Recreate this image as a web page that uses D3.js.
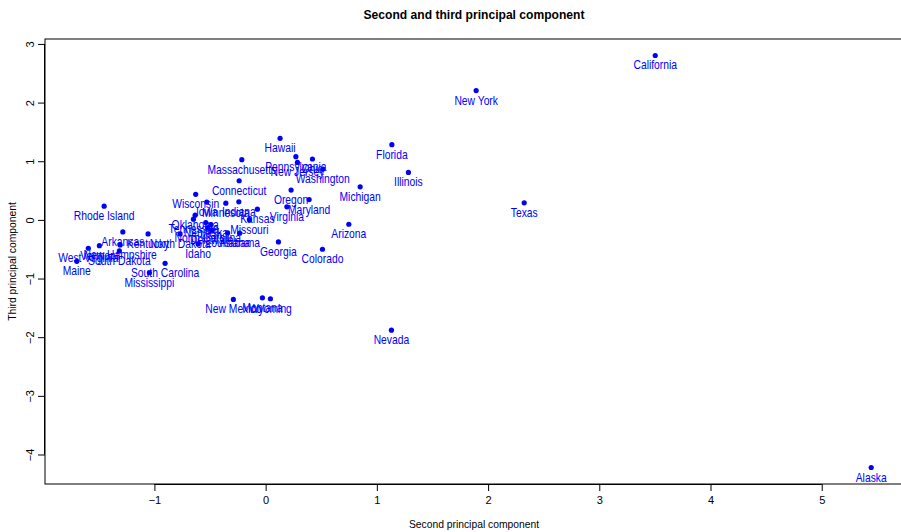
<!DOCTYPE html>
<html>
<head>
<meta charset="utf-8">
<script src="https://cdn.jsdelivr.net/npm/d3@7"></script>
<style>
  body { margin: 0; background: #fff; }
  text { font-family: "Liberation Sans", Arial, Helvetica, sans-serif; }
</style>
</head>
<body>
<svg id="chart" width="901" height="532"></svg>
<script>
// state names and their scores on PC2 / PC3
const states = ["Alabama", "Alaska", "Arizona", "Arkansas", "California", "Colorado",
  "Connecticut", "Delaware", "Florida", "Georgia", "Hawaii", "Idaho", "Illinois",
  "Indiana", "Iowa", "Kansas", "Kentucky", "Louisiana", "Maine", "Maryland",
  "Massachusetts", "Michigan", "Minnesota", "Mississippi", "Missouri", "Montana",
  "Nebraska", "Nevada", "New Hampshire", "New Jersey", "New Mexico", "New York",
  "North Carolina", "North Dakota", "Ohio", "Oklahoma", "Oregon", "Pennsylvania",
  "Rhode Island", "South Carolina", "South Dakota", "Tennessee", "Texas", "Utah",
  "Vermont", "Virginia", "Washington", "West Virginia", "Wisconsin", "Wyoming"];

const pc2 = [-0.234, 5.445, 0.748, -1.284, 3.503, 0.511,
  -0.238, -0.484, 1.135, 0.115, 0.130, -0.607, 1.284,
  -0.241, -0.529, -0.074, -1.057, -0.342, -1.698, 0.391,
  -0.214, 0.850, -0.358, -1.045, -0.146, -0.029,
  -0.538, 1.131, -1.308, 0.286, -0.290, 1.893,
  -0.520, -0.769, 0.421, -0.634, 0.229, 0.272,
  -1.452, -0.904, -1.315, -0.649, 2.325, -0.490,
  -1.495, 0.191, 0.514, -1.594, -0.629, 0.043];

const pc3 = [-0.227, -4.222, -0.074, -0.205, 2.803, -0.501,
  0.667, -0.176, 1.282, -0.376, 1.390, -0.410, 0.809,
  0.308, 0.303, 0.183, -0.239, -0.222, -0.706, 0.347,
  1.026, 0.564, 0.285, -0.901, 0.005, -1.328,
  -0.046, -1.880, -0.427, 0.979, -1.356, 2.205,
  -0.132, -0.239, 1.038, 0.080, 0.508, 1.077,
  0.234, -0.740, -0.530, 0.012, 0.291, -0.080,
  -0.439, 0.222, 0.867, -0.484, 0.436, -1.345];

const xTicks = [-1, 0, 1, 2, 3, 4, 5];
const yTicks = [-4, -3, -2, -1, 0, 1, 2, 3];

const data = states.map((name, i) => ({ name, x: pc2[i], y: pc3[i] }));

const svg = d3.select('#chart');
const plot = { left: 45, right: 903, top: 39, bottom: 484 };

// R style: data range padded by 4% on each side
function padded(ext) {
  const d = (ext[1] - ext[0]) * 0.04;
  return [ext[0] - d, ext[1] + d];
}

const x = d3.scaleLinear()
  .domain(padded(d3.extent(pc2)))
  .range([plot.left, plot.right]);
const y = d3.scaleLinear()
  .domain(padded(d3.extent(pc3)))
  .range([plot.bottom, plot.top]);

const minus = d => d < 0 ? '\u2212' + Math.abs(d) : d;

// box
svg.append('rect')
  .attr('x', plot.left).attr('y', plot.top)
  .attr('width', plot.right - plot.left)
  .attr('height', plot.bottom - plot.top)
  .attr('fill', 'none').attr('stroke', '#000').attr('stroke-width', 1);

// axes
const xAxis = svg.append('g')
  .attr('transform', `translate(0,${plot.bottom})`)
  .call(d3.axisBottom(x).tickValues(xTicks).tickSize(7).tickPadding(5).tickFormat(minus));
xAxis.select('.domain').attr('d', `M${x(-1)},0.5H${x(5)}`);
xAxis.selectAll('text').attr('font-size', 11).attr('font-family', null).attr('fill', '#000');

const yAxis = svg.append('g')
  .attr('transform', `translate(${plot.left},0)`)
  .call(d3.axisLeft(y).tickValues(yTicks).tickSize(7).tickFormat(minus));
yAxis.select('.domain').attr('d', `M-0.5,${y(-4)}V${y(3)}`);
yAxis.selectAll('text')
  .attr('font-size', 11).attr('font-family', null).attr('fill', '#000')
  .attr('text-anchor', 'middle')
  .attr('x', null).attr('dy', null)
  .attr('transform', 'translate(-11,0) rotate(-90)');

// points
svg.append('g')
  .selectAll('circle')
  .data(data)
  .join('circle')
  .attr('cx', d => x(d.x))
  .attr('cy', d => y(d.y))
  .attr('r', 2.6)
  .attr('fill', '#0000ff');

// labels under each point, squeezed like the narrow R font
svg.append('g')
  .selectAll('text')
  .data(data)
  .join('text')
  .attr('transform', d => `translate(${x(d.x)},${y(d.y) + 14}) scale(0.86,1)`)
  .attr('text-anchor', 'middle')
  .attr('font-size', 12)
  .attr('fill', '#0000ff')
  .text(d => d.name);

// titles
svg.append('text')
  .attr('transform', `translate(${(plot.left + plot.right) / 2},19) scale(0.93,1)`)
  .attr('text-anchor', 'middle')
  .attr('font-size', 13).attr('font-weight', 'bold')
  .text('Second and third principal component');

svg.append('text')
  .attr('transform', `translate(${(plot.left + plot.right) / 2},528) scale(0.94,1)`)
  .attr('text-anchor', 'middle')
  .attr('font-size', 11)
  .text('Second principal component');

svg.append('text')
  .attr('transform', `translate(16,${(plot.top + plot.bottom) / 2}) rotate(-90) scale(0.94,1)`)
  .attr('text-anchor', 'middle')
  .attr('font-size', 11)
  .text('Third principal component');
</script>
</body>
</html>
